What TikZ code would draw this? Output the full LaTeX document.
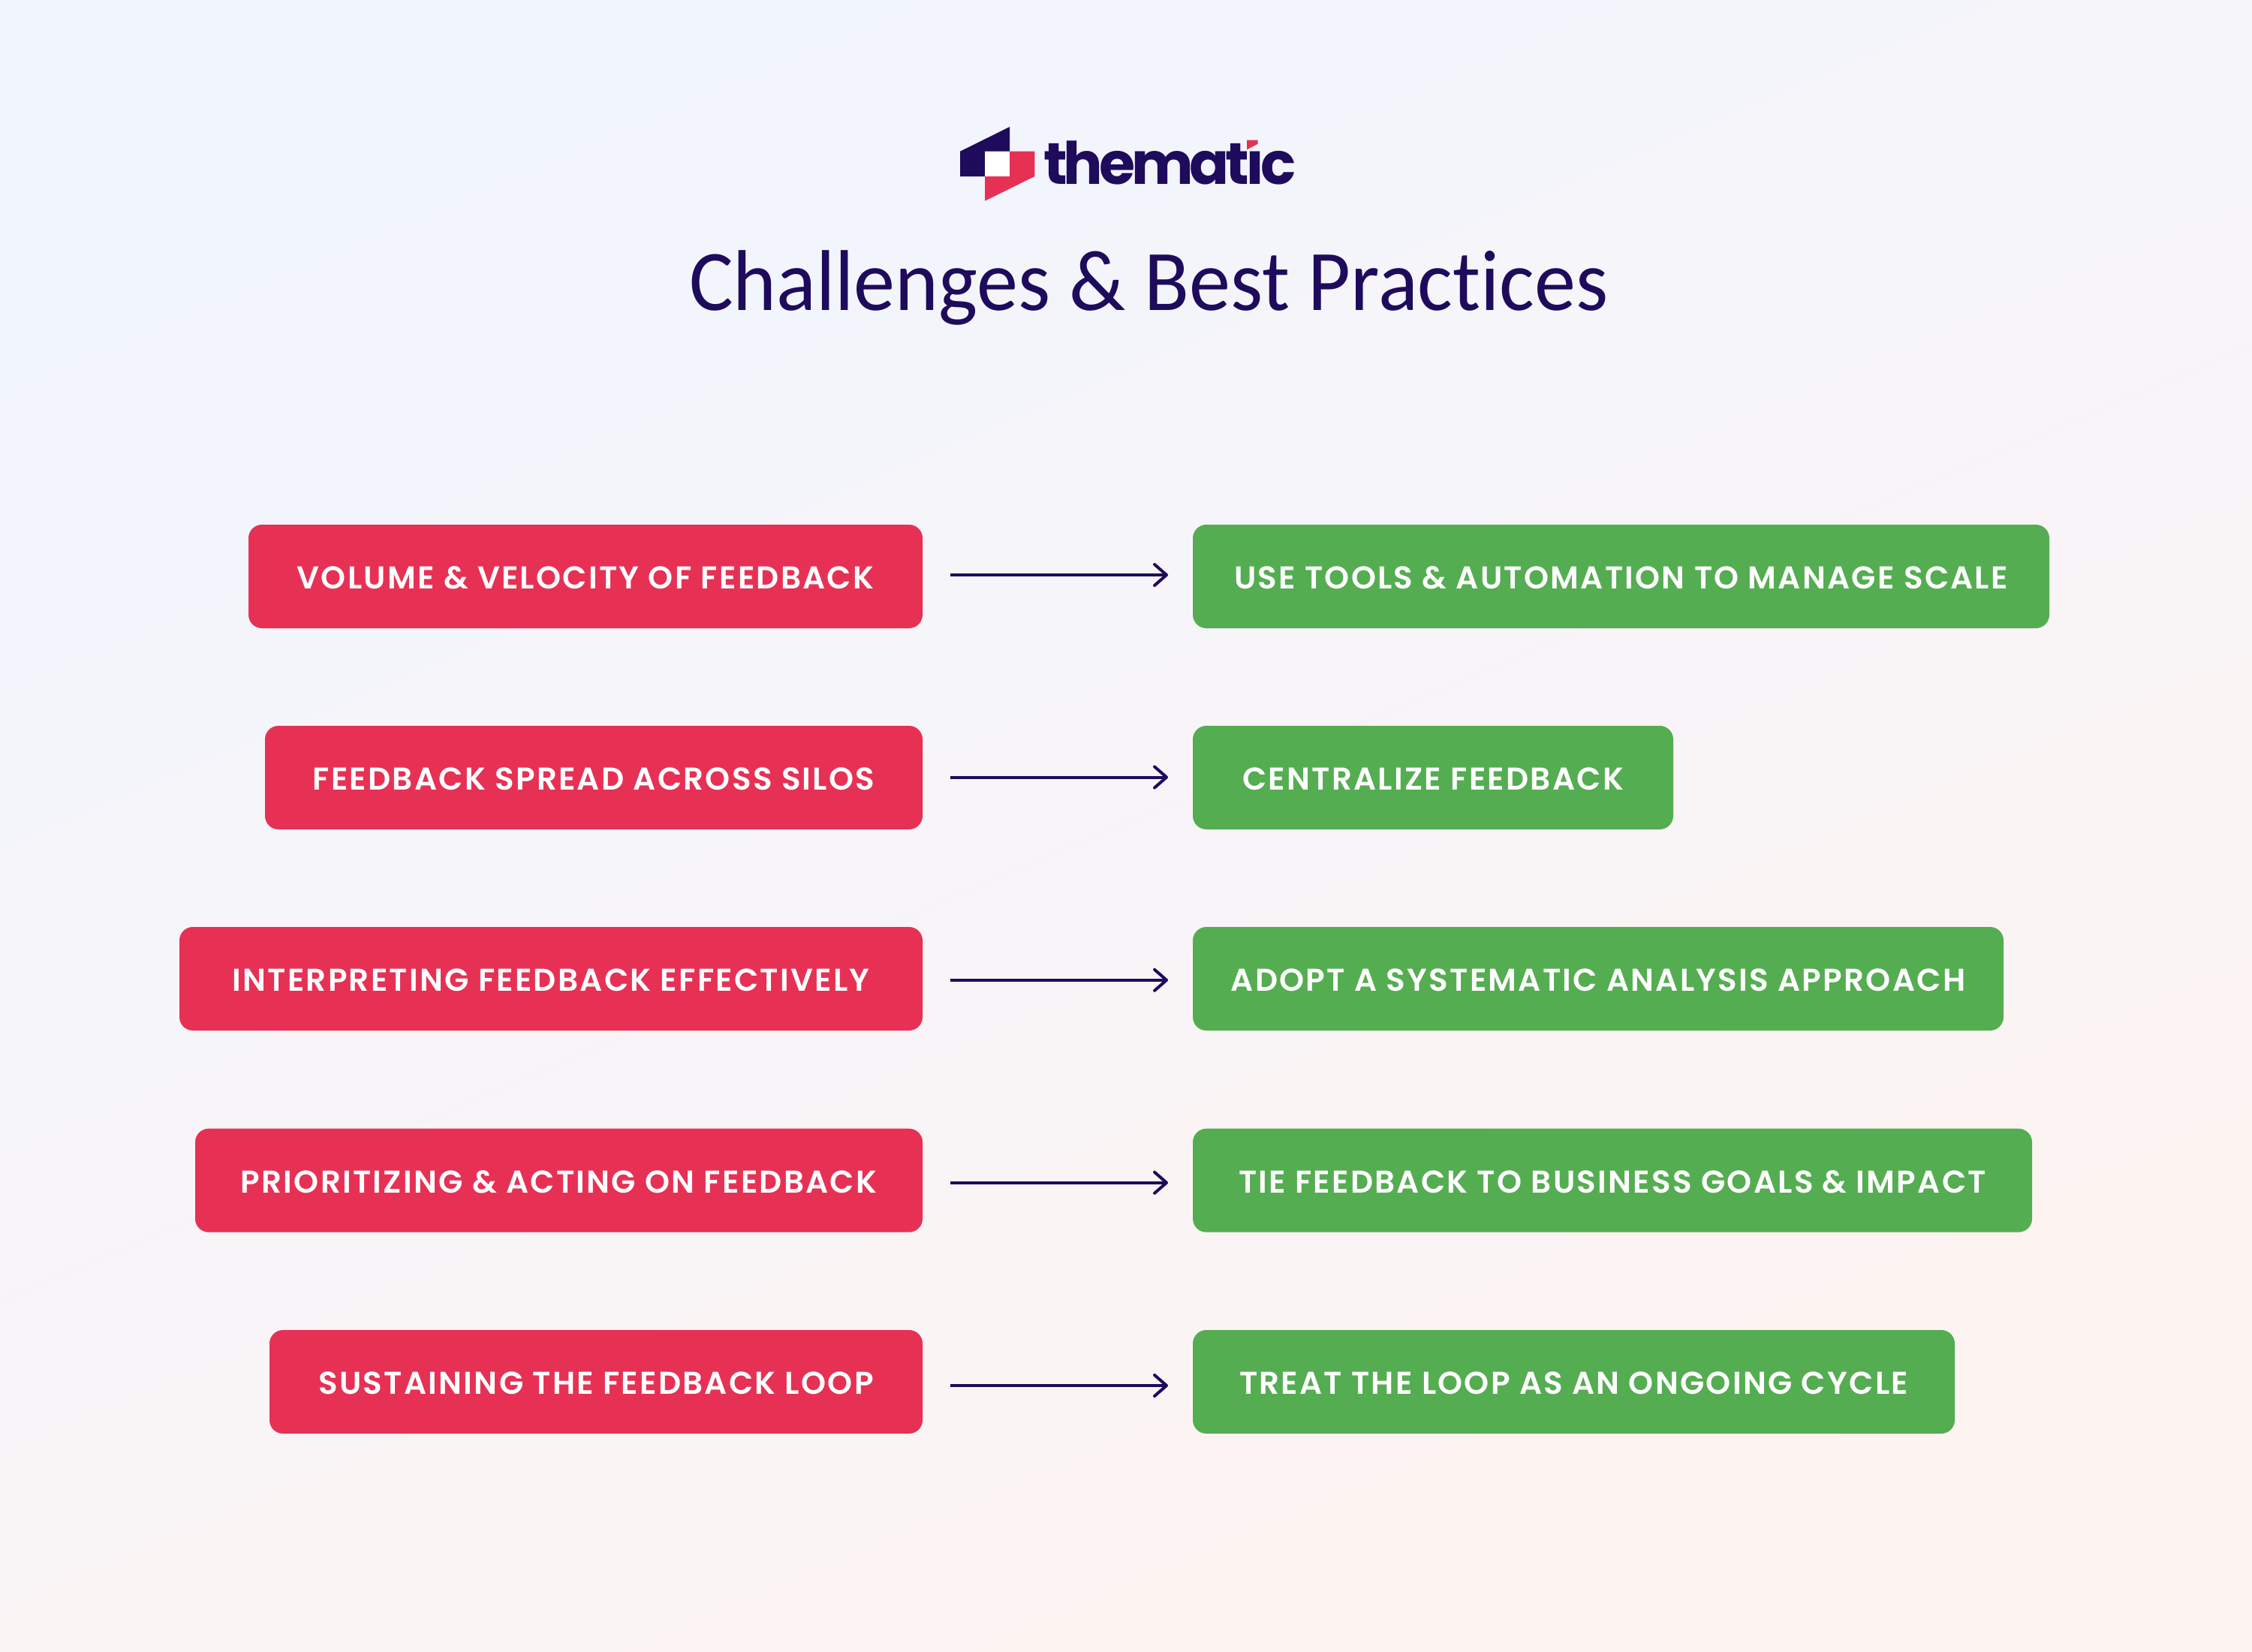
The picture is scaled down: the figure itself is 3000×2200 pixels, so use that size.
\documentclass[tikz,border=0pt]{standalone}
\usepackage{fontspec}
\usetikzlibrary{arrows.meta}
\newfontfamily\boxfont[LetterSpace=5.5]{Poppins SemiBold}
\newfontfamily\wordfont[LetterSpace=-6.5]{Poppins}[UprightFont=* Bold]
\newfontfamily\titlefont[Ligatures=NoCommon,FakeStretch=0.958]{Carlito}

\begin{document}
\begin{tikzpicture}[x=1pt,y=-1pt,
		redbox/.style={fill=custcol_e6_31_55, text=white, rounded corners=18, inner sep=0, outer sep=0, minimum height=138, anchor=east, text height=33, text depth=0, font=\boxfont\fontsize{42pt}{42pt}\selectfont},
		greenbox/.style={redbox, fill=custcol_55_ad_52, anchor=west},
		flowarrow/.style={line width=4.0pt, custcol_1e_0b_5c, -{Straight Barb[length=16pt,width=28pt,round]}, shorten <=37pt, shorten >=33pt}]
				\definecolor{custcol_e6_31_55}{RGB}{230, 49, 85}
				\definecolor{custcol_55_ad_52}{RGB}{85, 173, 82}
				\definecolor{custcol_1e_0b_5c}{RGB}{30, 11, 92}
				\definecolor{custcol_f1_f5_fe}{RGB}{241, 245, 254}
				\definecolor{custcol_fe_f4_f1}{RGB}{254, 244, 241}
				\useasboundingbox (0,0) rectangle (3000,2200);
				\shade [top color=custcol_f1_f5_fe, bottom color=custcol_fe_f4_f1, shading angle=23]  (0,0) rectangle (3000,2200);
				% logo
				\fill [custcol_1e_0b_5c]  (1279,201.7) -- (1345,169) -- (1345,201.7) -- (1312,201.7) -- (1312,235) -- (1279,235) -- cycle;
				\fill [custcol_e6_31_55]  (1345,201.7) -- (1378.3,201.7) -- (1378.3,235) -- (1312,267.7) -- (1312,235) -- (1345,235) -- cycle;
				\fill [white]  (1312,201.7) rectangle (1345,235);
				\node[inner sep=0, outer sep=0, custcol_1e_0b_5c, anchor=base west, font=\wordfont\fontsize{78pt}{78pt}\selectfont] (wordmark) at (1390,245) {thematıc};
				\fill [custcol_e6_31_55]  (1661,186.7) -- (1675.7,186.7) -- (1675.7,191.7) -- (1661,199.3) -- cycle;
				\node[inner sep=0, outer sep=0, custcol_1e_0b_5c, anchor=base west, font=\titlefont\fontsize{115pt}{115pt}\selectfont] (title) at (918,413) {Challenges \& Best Practices};
				% challenges
				\node[redbox, minimum width=898] (redA) at (1229,768) {VOLUME \& VELOCITY OF FEEDBACK};
				\node[redbox, minimum width=876] (redB) at (1229,1036) {FEEDBACK SPREAD ACROSS SILOS};
				\node[redbox, minimum width=990] (redC) at (1229,1304) {INTERPRETING FEEDBACK EFFECTIVELY};
				\node[redbox, minimum width=969] (redD) at (1229,1572.7) {PRIORITIZING \& ACTING ON FEEDBACK};
				\node[redbox, minimum width=870] (redE) at (1229,1841) {SUSTAINING THE FEEDBACK LOOP};
				% practices
				\node[greenbox, minimum width=1141] (greenA) at (1589,768) {USE TOOLS \& AUTOMATION TO MANAGE SCALE};
				\node[greenbox, minimum width=640] (greenB) at (1589,1036) {CENTRALIZE FEEDBACK};
				\node[greenbox, minimum width=1080] (greenC) at (1589,1304) {ADOPT A SYSTEMATIC ANALYSIS APPROACH};
				\node[greenbox, minimum width=1118] (greenD) at (1589,1572.7) {TIE FEEDBACK TO BUSINESS GOALS \& IMPACT};
				\node[greenbox, minimum width=1015] (greenE) at (1589,1841) {TREAT THE LOOP AS AN ONGOING CYCLE};
				% arrows
				\draw [flowarrow]  ([yshift=2pt]redA.east) -- ([yshift=2pt]greenA.west);
				\draw [flowarrow]  ([yshift=0.5pt]redB.east) -- ([yshift=0.5pt]greenB.west);
				\draw [flowarrow]  ([yshift=-1.8pt]redC.east) -- ([yshift=-1.8pt]greenC.west);
				\draw [flowarrow]  ([yshift=-3pt]redD.east) -- ([yshift=-3pt]greenD.west);
				\draw [flowarrow]  ([yshift=-5pt]redE.east) -- ([yshift=-5pt]greenE.west);
			\end{tikzpicture}
\end{document}
